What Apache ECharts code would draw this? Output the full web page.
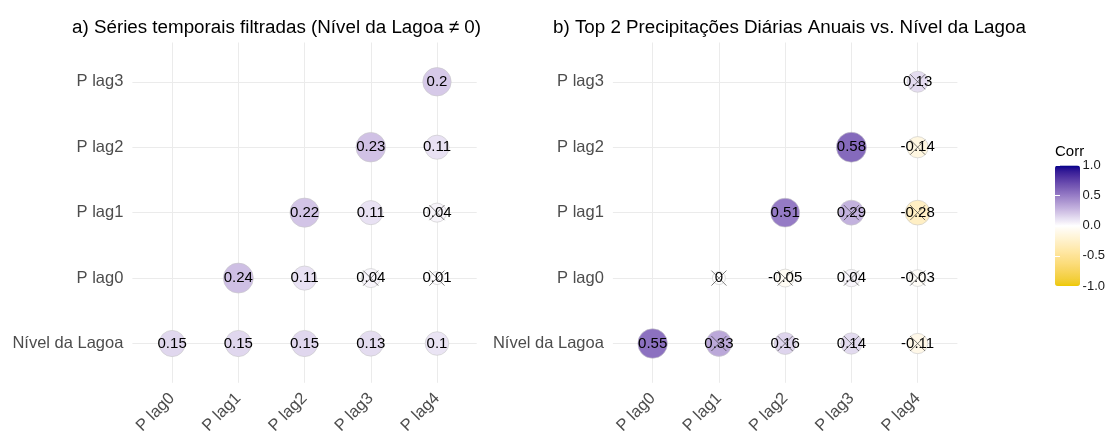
<!DOCTYPE html>
<html>
<head>
<meta charset="utf-8">
<script src="https://cdn.jsdelivr.net/npm/echarts@6/dist/echarts.min.js"></script>
<style>
html,body{margin:0;padding:0;background:#fff;}
#chart{width:1108px;height:437px;}
</style>
</head>
<body>
<div id="chart"></div>
<script>
// ---------- data ----------
const xCats = ['P lag0', 'P lag1', 'P lag2', 'P lag3', 'P lag4'];
const yCats = ['Nível da Lagoa', 'P lag0', 'P lag1', 'P lag2', 'P lag3'];

const titleA = 'a) Séries temporais filtradas (Nível da Lagoa ≠ 0)';
const titleB = 'b) Top 2 Precipitações Diárias Anuais vs. Nível da Lagoa';
const legendTitle = 'Corr';

// rows follow yCats order; null = empty cell
const corrA_nivel = [0.15, 0.15, 0.15, 0.13, 0.1];
const corrA_lag0  = [null, 0.24, 0.11, 0.04, 0.01];
const corrA_lag1  = [null, null, 0.22, 0.11, 0.04];
const corrA_lag2  = [null, null, null, 0.23, 0.11];
const corrA_lag3  = [null, null, null, null, 0.2];
// 1 = significant, 0 = crossed out
const sigA_nivel = [1, 1, 1, 1, 1];
const sigA_lag0  = [null, 1, 1, 0, 0];
const sigA_lag1  = [null, null, 1, 1, 0];
const sigA_lag2  = [null, null, null, 1, 1];
const sigA_lag3  = [null, null, null, null, 1];

const corrB_nivel = [0.55, 0.33, 0.16, 0.14, -0.11];
const corrB_lag0  = [null, 0, -0.05, 0.04, -0.03];
const corrB_lag1  = [null, null, 0.51, 0.29, -0.28];
const corrB_lag2  = [null, null, null, 0.58, -0.14];
const corrB_lag3  = [null, null, null, null, 0.13];
const sigB_nivel = [1, 0, 0, 0, 0];
const sigB_lag0  = [null, 0, 0, 0, 0];
const sigB_lag1  = [null, null, 1, 0, 0];
const sigB_lag2  = [null, null, null, 1, 0];
const sigB_lag3  = [null, null, null, null, 0];

// ---------- helpers ----------
function buildPoints(rows, sigs) {
  const pts = [];
  rows.forEach((row, yi) => {
    row.forEach((v, xi) => {
      if (v !== null) pts.push({x: xi, y: yi, v: v, sig: sigs[yi][xi]});
    });
  });
  return pts;
}
const ptsA = buildPoints([corrA_nivel, corrA_lag0, corrA_lag1, corrA_lag2, corrA_lag3],
                         [sigA_nivel, sigA_lag0, sigA_lag1, sigA_lag2, sigA_lag3]);
const ptsB = buildPoints([corrB_nivel, corrB_lag0, corrB_lag1, corrB_lag2, corrB_lag3],
                         [sigB_nivel, sigB_lag0, sigB_lag1, sigB_lag2, sigB_lag3]);

// ggplot-like area size scale (range 4..10) per panel
function sizeFn(pts) {
  const abs = pts.map(p => Math.abs(p.v));
  const mn = Math.min(...abs), mx = Math.max(...abs);
  return function (a) {
    const t = mx > mn ? (a - mn) / (mx - mn) : 1;
    const s = 4 + 6 * Math.sqrt(t);
    return 2.85 * s + 1.5;
  };
}

// Lab interpolation (like scales::div_gradient_pal)
function hexToRgb(h){h=h.replace('#','');return [0,2,4].map(i=>parseInt(h.substr(i,2),16)/255);}
function toLin(c){return c<=0.04045?c/12.92:Math.pow((c+0.055)/1.055,2.4);}
function fromLin(c){return c<=0.0031308?12.92*c:1.055*Math.pow(c,1/2.4)-0.055;}
const Xn=0.95047,Yn=1.0,Zn=1.08883;
function f(t){return t>0.008856?Math.cbrt(t):(7.787*t+16/116);}
function finv(t){return t*t*t>0.008856?t*t*t:(t-16/116)/7.787;}
function rgbToLab(rgb){
  const [r,g,b]=rgb.map(toLin);
  const X=0.4124*r+0.3576*g+0.1805*b, Y=0.2126*r+0.7152*g+0.0722*b, Z=0.0193*r+0.1192*g+0.9505*b;
  const fx=f(X/Xn), fy=f(Y/Yn), fz=f(Z/Zn);
  return [116*fy-16, 500*(fx-fy), 200*(fy-fz)];
}
function labToHex(lab){
  const fy=(lab[0]+16)/116, fx=fy+lab[1]/500, fz=fy-lab[2]/200;
  const X=Xn*finv(fx), Y=Yn*finv(fy), Z=Zn*finv(fz);
  let r= 3.2406*X-1.5372*Y-0.4986*Z, g=-0.9689*X+1.8758*Y+0.0415*Z, b=0.0557*X-0.2040*Y+1.0570*Z;
  return '#'+[r,g,b].map(c=>{c=Math.round(Math.max(0,Math.min(1,fromLin(c)))*255);return c.toString(16).padStart(2,'0');}).join('');
}
function lerp(a,b,t){return a.map((v,i)=>v+(b[i]-v)*t);}
const lowLab=rgbToLab(hexToRgb('#EEC900')), midLab=rgbToLab(hexToRgb('#FFFFFF')), highLab=rgbToLab(hexToRgb('#00008B'));
const colorStops=[];
const N=40;
for(let i=0;i<=N;i++){
  const v=-1+2*i/N;
  colorStops.push(v<0?labToHex(lerp(midLab,lowLab,-v)):labToHex(lerp(midLab,highLab,v)));
}

const crossPath = 'path://M0,0L10,10M10,0L0,10';

function circleSeries(pts, gi) {
  const sf = sizeFn(pts);
  return {
    type: 'scatter', xAxisIndex: gi, yAxisIndex: gi,
    data: pts.map(p => [p.x, p.y, p.v]),
    symbol: 'circle',
    symbolSize: d => sf(Math.abs(d[2])),
    itemStyle: {borderColor: '#c8c8c8', borderWidth: 0.6, opacity: 1},
    label: {show: true, position: 'inside', formatter: p => String(p.value[2]),
            color: '#000', fontSize: 15, fontFamily: 'Liberation Sans, Arial, sans-serif'},
    emphasis: {disabled: true},
    z: 3
  };
}
function crossSeries(pts, gi) {
  return {
    type: 'scatter', xAxisIndex: gi, yAxisIndex: gi,
    data: pts.filter(p => p.sig === 0).map(p => [p.x, p.y, p.v]),
    symbol: crossPath, symbolSize: 15,
    itemStyle: {color: 'none', borderColor: '#333', borderWidth: 0.8},
    emphasis: {disabled: true},
    silent: true, z: 4
  };
}

const FONT = 'Liberation Sans, Arial, sans-serif';
const idx = [0, 1, 2, 3, 4];

function xAxisFor(gi) {
  return {
    type: 'value', gridIndex: gi, min: -0.6, max: 4.6,
    axisLine: {show: false},
    axisTick: {show: false, customValues: idx},
    axisLabel: {customValues: idx, formatter: v => xCats[Math.round(v)], rotate: 45,
                fontSize: 16.5, color: '#4D4D4D', margin: 13, fontFamily: FONT},
    splitLine: {show: true, lineStyle: {color: '#EBEBEB', width: 1}}
  };
}
function yAxisFor(gi) {
  return {
    type: 'value', gridIndex: gi, min: -0.6, max: 4.6,
    axisLine: {show: false},
    axisTick: {show: false, customValues: idx},
    axisLabel: {customValues: idx, formatter: v => yCats[Math.round(v)],
                fontSize: 16.5, color: '#4D4D4D', margin: 9, fontFamily: FONT},
    splitLine: {show: true, lineStyle: {color: '#EBEBEB', width: 1}}
  };
}

const chart = echarts.init(document.getElementById('chart'), null, {renderer: 'canvas'});
const option = {
  backgroundColor: '#fff',
  animation: false,
  title: [
    {text: titleA, left: 72, top: 18.5, padding: 0, textStyle: {fontSize: 18.8, fontWeight: 'normal', color: '#000', fontFamily: FONT}},
    {text: titleB, left: 553, top: 18.5, padding: 0, textStyle: {fontSize: 18.8, fontWeight: 'normal', color: '#000', fontFamily: FONT}}
  ],
  graphic: [
    {type: 'text', left: 1055, top: 144, z: 20,
     style: {text: legendTitle, fontSize: 15, fill: '#000', fontFamily: FONT}}
  ],
  grid: [
    {left: 132.4, top: 42.5, width: 344.3, height: 345, containLabel: false},
    {left: 612.9, top: 42.5, width: 344.5, height: 345, containLabel: false},
    {left: 1055, top: 165.5, width: 25, height: 120.5, containLabel: false}
  ],
  xAxis: [xAxisFor(0), xAxisFor(1),
    {type: 'value', gridIndex: 2, show: false, min: 0, max: 1}],
  yAxis: [yAxisFor(0), yAxisFor(1),
    {type: 'value', gridIndex: 2, min: -1, max: 1, interval: 0.5, position: 'right', z: 10,
     axisLine: {show: false},
     axisTick: {show: true, inside: true, length: 5, lineStyle: {color: '#fff', width: 1}},
     axisLabel: {formatter: v => v.toFixed(1), fontSize: 13, color: '#1a1a1a', margin: 6, fontFamily: FONT},
     splitLine: {show: false}},
    {type: 'value', gridIndex: 2, min: -1, max: 1, interval: 0.5, position: 'left', z: 10,
     axisLine: {show: false},
     axisTick: {show: true, inside: true, length: 5, lineStyle: {color: '#fff', width: 1}},
     axisLabel: {show: false},
     splitLine: {show: false}}
  ],
  visualMap: [{
    type: 'continuous', min: -1, max: 1, dimension: 2, seriesIndex: [0, 2],
    calculable: false, showLabel: false, text: null, realtime: false,
    orient: 'vertical', left: 1055, top: 165.5, itemWidth: 25, itemHeight: 120.5, padding: 0,
    inRange: {color: colorStops}, z: 2
  }],
  series: [
    circleSeries(ptsA, 0), crossSeries(ptsA, 0),
    circleSeries(ptsB, 1), crossSeries(ptsB, 1)
  ]
};
chart.setOption(option);
</script>
</body>
</html>
